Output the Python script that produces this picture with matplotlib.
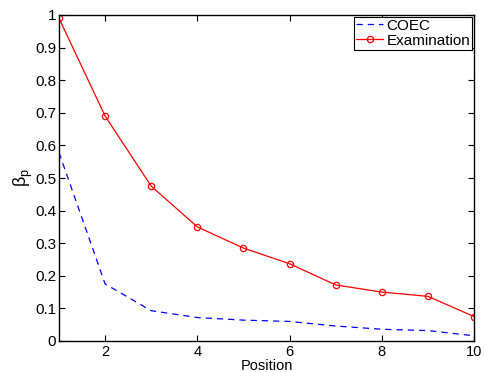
import matplotlib
matplotlib.use("Agg")
import matplotlib.pyplot as plt

positions = [1, 2, 3, 4, 5, 6, 7, 8, 9, 10]
coec = [0.578, 0.175, 0.093, 0.072, 0.064, 0.060, 0.046, 0.036, 0.032, 0.016]
examination = [0.99, 0.69, 0.475, 0.35, 0.285, 0.237, 0.172, 0.15, 0.137, 0.075]
xticks = [2, 4, 6, 8, 10]
yticks = [0, 0.1, 0.2, 0.3, 0.4, 0.5, 0.6, 0.7, 0.8, 0.9, 1]

plt.rcParams['font.family'] = ['Liberation Sans', 'DejaVu Sans']
plt.rcParams['mathtext.fontset'] = 'custom'
plt.rcParams['mathtext.rm'] = 'Liberation Sans'
plt.rcParams['mathtext.it'] = 'Liberation Sans'

fig = plt.figure(figsize=(4.84, 3.72), dpi=100)
ax = fig.add_axes([59/484, 1-341/372, (474-59)/484, (341-15)/372])

ax.plot(positions, coec, color='#0000ff', linestyle=(0, (5, 4)), linewidth=0.9, label='COEC')
ax.plot(positions, examination, color='#ff0000', linewidth=0.9, marker='o', markersize=4.5,
        markerfacecolor='none', markeredgewidth=0.9, label='Examination')

ax.set_xlim(1, 10)
ax.set_ylim(0, 1)
ax.set_xticks(xticks)
ax.set_yticks(yticks)
ax.set_yticklabels(['0', '0.1', '0.2', '0.3', '0.4', '0.5', '0.6', '0.7', '0.8', '0.9', '1'])
ax.tick_params(direction='in', top=True, right=True, labelsize=11, length=4, width=0.8)
ax.tick_params(axis='x', pad=3, labelsize=10.5)
ax.tick_params(axis='y', pad=2)
for s in ax.spines.values():
    s.set_linewidth(1.0)

ax.set_xlabel('Position', fontsize=10.5, labelpad=0)
ax.set_ylabel(r'$\beta_p$', fontsize=13, labelpad=0)

leg = ax.legend(loc='upper right', fontsize=11, frameon=True, fancybox=False,
                edgecolor='black', framealpha=1, borderpad=0.15, labelspacing=0.05,
                handlelength=1.8, handletextpad=0.2, borderaxespad=0.1)
leg.get_frame().set_linewidth(0.8)

fig.savefig('out.png', dpi=100)
